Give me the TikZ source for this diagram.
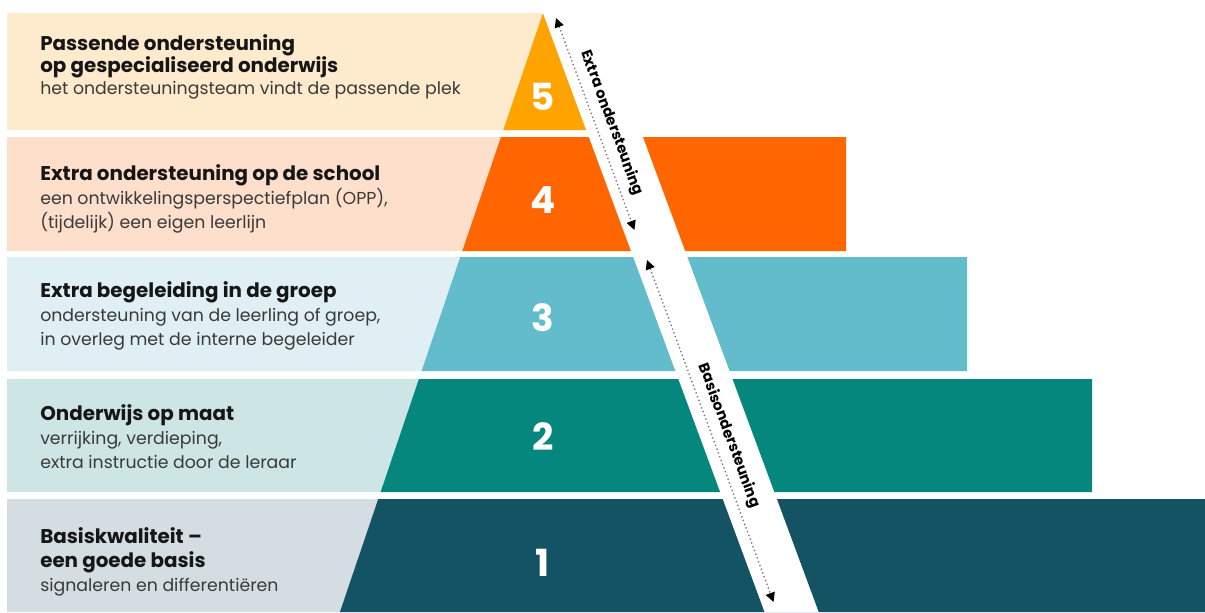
\documentclass[tikz,border=0pt]{standalone}
\usepackage{fontspec}
\setmainfont{Poppins}
\usetikzlibrary{arrows.meta,positioning}
\definecolor{pale5}{HTML}{FEEBCD}
\definecolor{dark5}{HTML}{FFA300}
\definecolor{pale4}{HTML}{FEDFCC}
\definecolor{dark4}{HTML}{FF6600}
\definecolor{pale3}{HTML}{DFEFF4}
\definecolor{dark3}{HTML}{62BCCB}
\definecolor{pale2}{HTML}{CDE6E5}
\definecolor{dark2}{HTML}{05877E}
\definecolor{pale1}{HTML}{D3DDE2}
\definecolor{dark1}{HTML}{145364}
\definecolor{subgray}{HTML}{3A3A3A}
\definecolor{ttlblack}{HTML}{161616}
\newcommand{\ttl}[1]{{\fontsize{14.9}{18}\selectfont\bfseries\color{ttlblack}#1}}
\tikzset{
  lvl/.style={font=\fontsize{28}{30}\selectfont\bfseries, text=white},
  desc/.style={anchor=base west, align=left, font=\fontsize{13}{18}\selectfont, text=subgray, inner sep=0pt},
  span/.style={{Triangle[length=7pt,width=7pt,color=black]}-{Triangle[length=7pt,width=7pt,color=black]}, dotted, line width=1pt, draw=black!55},
  spanlbl/.style={sloped, above=2pt, font=\fontsize{11}{12}\selectfont\bfseries, text=black},
}

\begin{document}
\begin{tikzpicture}[x=0.75pt,y=-0.75pt]
\useasboundingbox (0,0) rectangle (1205,612);
% bands and pyramid
\fill[pale5] (7,13) rectangle (543,130);
\fill[dark5] (543,13) -- (586.3,130) -- (503.3,130) -- cycle;
\foreach \ya/\yb/\rx/\pc/\dc in {137/251/846/pale4/dark4, 257/371/967/pale3/dark3, 379/492/1092/pale2/dark2, 499/612/1205/pale1/dark1}{
  \pgfmathsetmacro\xt{543-0.339*(\ya-13)}
  \pgfmathsetmacro\xb{543-0.339*(\yb-13)}
  \fill[\pc] (7,\ya) rectangle (\xt,\yb);
  \fill[\dc] (\xt,\ya) -- (\rx,\ya) -- (\rx,\yb) -- (\xb,\yb) -- cycle;
}
\fill[white] (543,13) -- (597,13) -- (818.6,612) -- (764.6,612) -- cycle;
% levels
\node[lvl] (n5) at (543,97) {5};
\node[lvl] (n4) at (543,200) {4};
\node[lvl] (n3) at (543,318) {3};
\node[lvl] (n2) at (543,437) {2};
\node[lvl] (n1) at (543,563) {1};
% texts (anchored at the last baseline)
\node[desc, font=\fontsize{13}{16.2}\selectfont] (d5) at (40,94) {\ttl{Passende ondersteuning}\\\ttl{op gespecialiseerd onderwijs}\\het ondersteuningsteam vindt de passende plek};
\node[desc] (d4) at (40,228.5) {\ttl{Extra ondersteuning op de school}\\een ontwikkelingsperspectiefplan (OPP),\\(tijdelijk) een eigen leerlijn};
\node[desc] (d3) at (40,345) {\ttl{Extra begeleiding in de groep}\\ondersteuning van de leerling of groep,\\in overleg met de interne begeleider};
\node[desc] (d2) at (40,468.3) {\ttl{Onderwijs op maat}\\verrijking, verdieping,\\extra instructie door de leraar};
\node[desc] (d1) at (40,591.7) {\ttl{Basiskwaliteit --}\\\ttl{een goede basis}\\signaleren en differentiëren};
% spans
\coordinate (e1) at (556,18);
\coordinate (e2) at (634.4,230);
\coordinate (b1) at (647,260);
\coordinate (b2) at (773.5,602);
\draw[span] (e1) -- (e2) node[spanlbl, pos=0.52] {Extra ondersteuning};
\draw[span] (b1) -- (b2) node[spanlbl, pos=0.53] {Basisondersteuning};
\end{tikzpicture}
\end{document}
